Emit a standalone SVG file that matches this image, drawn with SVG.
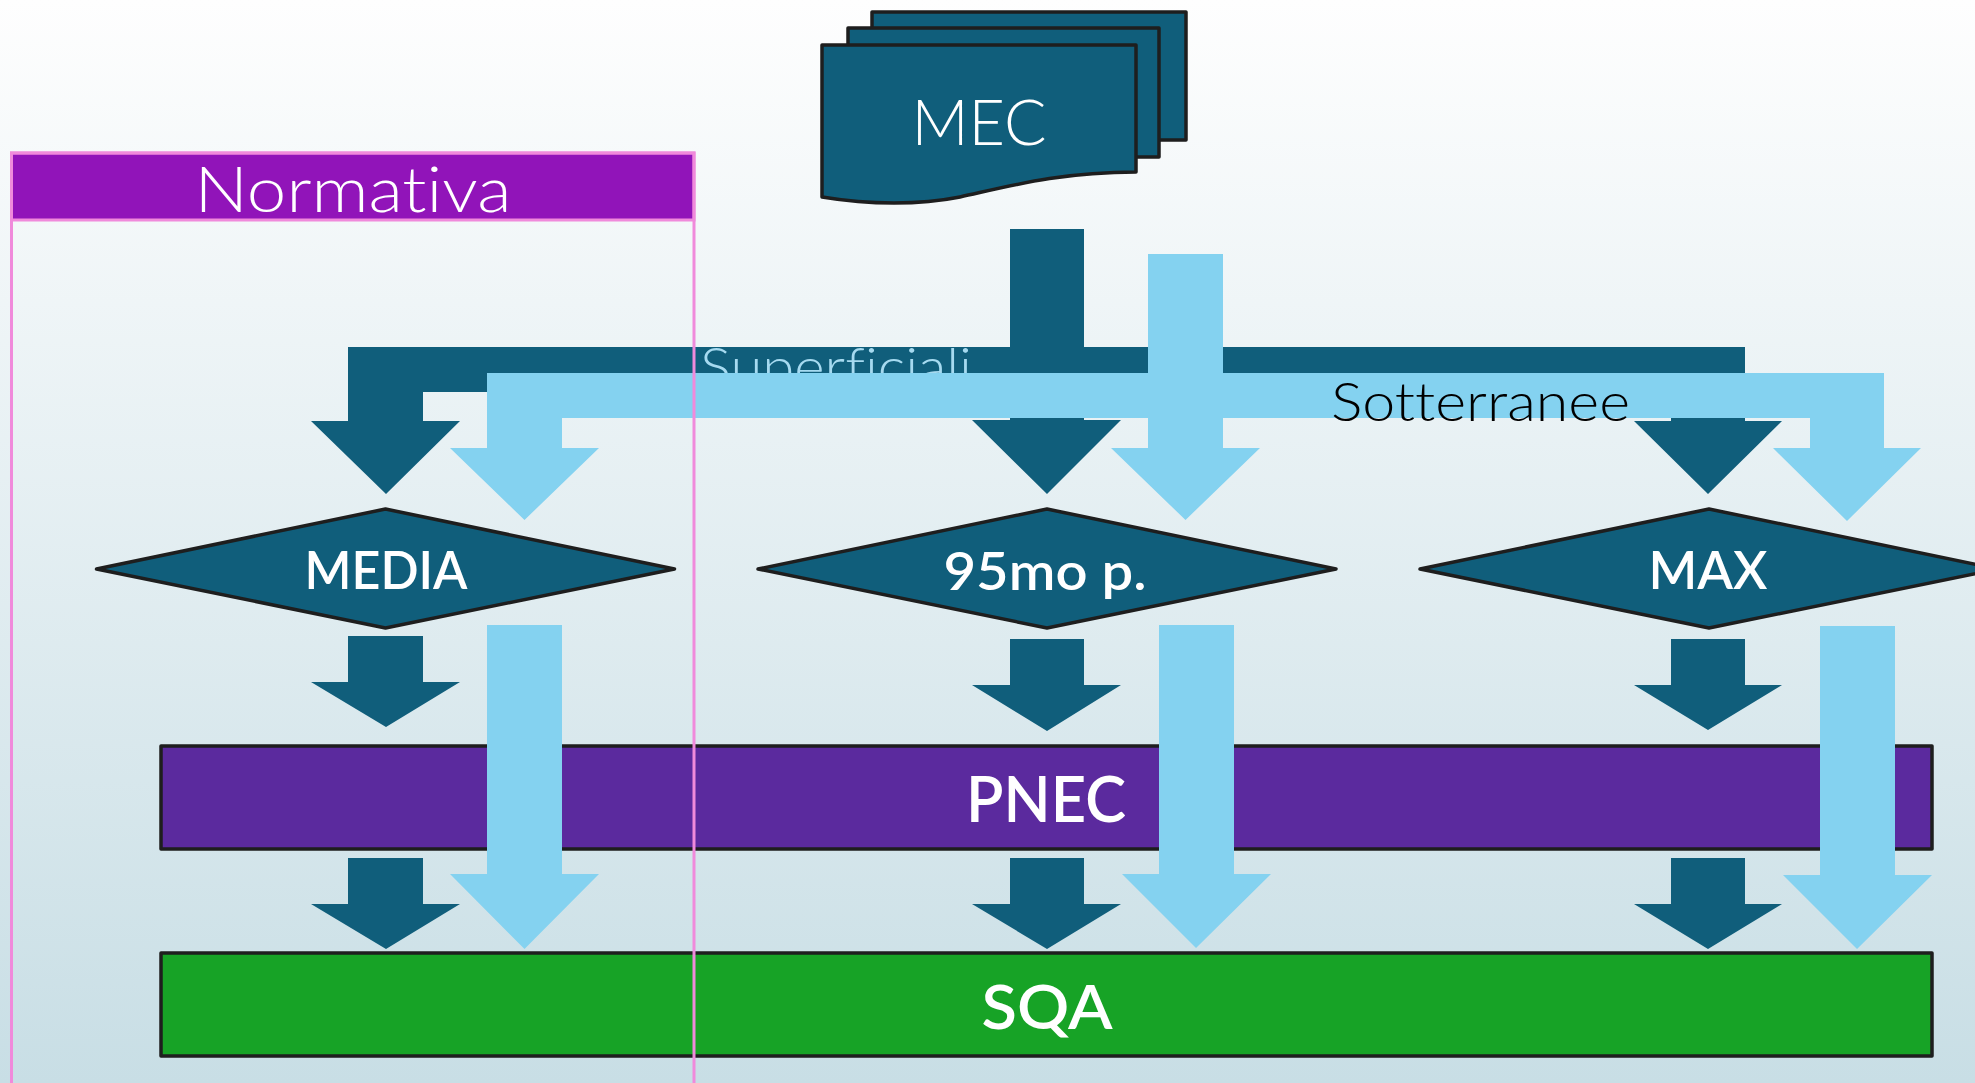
<svg xmlns="http://www.w3.org/2000/svg" width="1975" height="1083" viewBox="0 0 1975 1083">
<defs>
<linearGradient id="bg" x1="0" y1="0" x2="0" y2="1">
<stop offset="0" stop-color="#FEFEFE"/>
<stop offset="1" stop-color="#C8DEE5"/>
</linearGradient>
<style>
.dark{fill:#105E7B}
.light{fill:#84D2F0}
.shape{stroke:#1E1E1E;stroke-width:3.5;stroke-linejoin:round}
text{font-variant-ligatures:none;font-feature-settings:"liga" 0,"dlig" 0}
.thin{font-family:Lato,"Open Sans","Liberation Sans",sans-serif;font-weight:300}
.bold{font-family:Lato,"Open Sans","Liberation Sans",sans-serif;font-weight:600}
.w{fill:#FFFFFF}
</style>
</defs>
<rect x="0" y="0" width="1975" height="1083" fill="url(#bg)"/>

<g id="mec">
<rect class="dark shape" x="872" y="12" width="314" height="128"/>
<rect class="dark shape" x="848" y="28" width="311" height="129"/>
<path class="dark shape" d="M822,45 H1136 V172 C1060,172 1010,186 960,197 C920,205 870,205 822,197 Z"/>
<text class="thin w" x="979" y="145" font-size="63" text-anchor="middle" textLength="135" lengthAdjust="spacingAndGlyphs">MEC</text>
</g>

<g id="media">
<polygon class="dark shape" points="96.5,569 385.5,509 674.5,569 385.5,628"/>
<text class="bold w" x="386" y="589" font-size="52" text-anchor="middle" textLength="163" lengthAdjust="spacingAndGlyphs">MEDIA</text>
</g>
<g id="p95">
<polygon class="dark shape" points="758,569 1047,509 1336,569 1047,628"/>
<text class="bold w" x="1045" y="590" font-size="52" text-anchor="middle" textLength="203" lengthAdjust="spacingAndGlyphs">95mo p.</text>
</g>
<g id="max">
<polygon class="dark shape" points="1420,569 1709,509 1998,569 1709,628"/>
<text class="bold w" x="1708" y="589" font-size="52" text-anchor="middle" textLength="119" lengthAdjust="spacingAndGlyphs">MAX</text>
</g>

<g id="pnec">
<rect class="shape" fill="#5B2A9E" x="161" y="746" width="1771" height="103"/>
<text class="bold w" x="1046" y="822" font-size="63" text-anchor="middle" textLength="160" lengthAdjust="spacingAndGlyphs">PNEC</text>
</g>
<g id="sqa">
<rect class="shape" fill="#17A326" x="161" y="953" width="1771" height="103"/>
<text class="bold w" x="1047" y="1029" font-size="62" text-anchor="middle" textLength="131" lengthAdjust="spacingAndGlyphs">SQA</text>
</g>

<g id="connectors">
<path class="dark" d="M1010,229 H1084 V347 H1745 V421 H1782 L1708,494 L1634,421 H1671 V392 H1084 V420 H1121 L1047,494 L972,420 H1010 V392 H423 V421 H460 L386,494 L311,421 H348 V347 H1010 Z"/>
<text id="lbl-superficiali" class="thin" fill="#A6DAF0" x="700" y="386" font-size="53" textLength="272" lengthAdjust="spacingAndGlyphs">Superficiali</text>
<path class="light" d="M1148,254 H1223 V373 H1884 V448 H1921 L1847,521 L1773,448 H1810 V418 H1223 V448 H1260 L1185.5,520 L1111,448 H1148 V418 H562 V448 H599 L524.5,520 L450,448 H487 V373 H1148 Z"/>
<text id="lbl-sotterranee" class="thin" fill="#000000" x="1331" y="421" font-size="53" textLength="299" lengthAdjust="spacingAndGlyphs">Sotterranee</text>

<polygon class="dark" points="348,636 423,636 423,682 460,682 386,727 311,682 348,682"/>
<polygon class="dark" points="1010,639 1084,639 1084,685 1121,685 1047,731 972,685 1010,685"/>
<polygon class="dark" points="1671,639 1745,639 1745,685 1782,685 1708,730 1634,685 1671,685"/>

<polygon class="dark" points="348,858 423,858 423,904 460,904 386,949 311,904 348,904"/>
<polygon class="dark" points="1010,858 1084,858 1084,904 1121,904 1047,949 972,904 1010,904"/>
<polygon class="dark" points="1671,858 1745,858 1745,904 1782,904 1708,949 1634,904 1671,904"/>

<polygon class="light" points="487,625 562,625 562,874 599,874 524.5,949 450,874 487,874"/>
<polygon class="light" points="1159,625 1234,625 1234,874 1271,874 1196,948 1122,874 1159,874"/>
<polygon class="light" points="1820,626 1895,626 1895,875 1932,875 1857,949 1783,875 1820,875"/>
</g>

<g id="normativa">
<rect x="11.5" y="153" width="682.5" height="67" fill="#9114B9" stroke="#F08ADB" stroke-width="3"/>
<text class="thin w" x="353" y="212" font-size="64" text-anchor="middle" textLength="317" lengthAdjust="spacingAndGlyphs">Normativa</text>
<rect x="11.5" y="153" width="682.5" height="1000" fill="none" stroke="#F08ADB" stroke-width="3"/>
</g>
</svg>
